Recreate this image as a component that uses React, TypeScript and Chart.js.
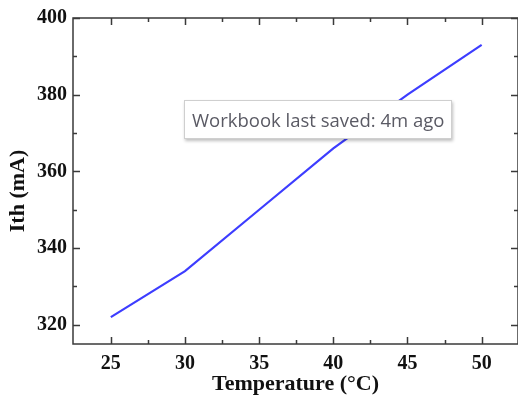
import React, { useEffect, useRef } from "react";
import { Chart, registerables } from "chart.js";

Chart.register(...registerables);

const temperatures = [25, 30, 35, 40, 45, 50];
const ithValues = [322, 334, 350, 366, 380, 393];
const xMajorTicks = [25, 30, 35, 40, 45, 50];
const xMinorTicks = [27.5, 32.5, 37.5, 42.5, 47.5];
const yMajorTicks = [320, 340, 360, 380, 400];
const yMinorTicks = [330, 350, 370, 390];
const xTitle = "Temperature (\u00B0C)";
const yTitle = "Ith (mA)";
const noteText = "Workbook last saved: 4m ago";

const serif = "'Liberation Serif', 'Times New Roman', serif";

const frameTicks = {
  id: "frameTicks",
  afterDraw(chart: any) {
    const { ctx, chartArea: a, scales } = chart;
    const xs = scales.x;
    const ys = scales.y;
    ctx.save();
    ctx.strokeStyle = "#3a3a3a";
    ctx.lineWidth = 1.5;
    ctx.strokeRect(a.left, a.top, a.right - a.left, a.bottom - a.top);
    const drawX = (vals: number[], len: number) => {
      vals.forEach((v) => {
        const px = Math.round(xs.getPixelForValue(v)) + 0.5;
        ctx.beginPath();
        ctx.moveTo(px, a.bottom);
        ctx.lineTo(px, a.bottom - len);
        ctx.moveTo(px, a.top);
        ctx.lineTo(px, a.top + len);
        ctx.stroke();
      });
    };
    const drawY = (vals: number[], len: number) => {
      vals.forEach((v) => {
        const py = Math.round(ys.getPixelForValue(v)) + 0.5;
        ctx.beginPath();
        ctx.moveTo(a.left, py);
        ctx.lineTo(a.left + len, py);
        ctx.moveTo(a.right, py);
        ctx.lineTo(a.right - len, py);
        ctx.stroke();
      });
    };
    drawX(xMajorTicks, 7);
    drawX(xMinorTicks, 4);
    drawY(yMajorTicks, 7);
    drawY(yMinorTicks, 4);

    // y axis title, centred slightly below the middle of the plot like the original
    ctx.translate(18, (a.top + a.bottom) / 2 + 10);
    ctx.rotate(-Math.PI / 2);
    ctx.fillStyle = "#111";
    ctx.font = `bold 22px ${serif}`;
    ctx.textAlign = "center";
    ctx.textBaseline = "middle";
    ctx.fillText(yTitle, 0, 0);
    ctx.restore();
  },
};

export default function App() {
  const ref = useRef<HTMLCanvasElement>(null);
  useEffect(() => {
    document.body.style.margin = "0";
    const chart = new Chart(ref.current as HTMLCanvasElement, {
      type: "line",
      data: {
        datasets: [
          {
            data: temperatures.map((t, i) => ({ x: t, y: ithValues[i] })),
            borderColor: "#3d3dff",
            borderWidth: 2.2,
            pointRadius: 0,
            tension: 0,
          },
        ],
      },
      options: {
        animation: false,
        responsive: false,
        layout: { padding: { top: 16, right: 0, left: 0, bottom: 0 } },
        plugins: { legend: { display: false }, tooltip: { enabled: false } },
        scales: {
          x: {
            type: "linear",
            min: 22.45,
            max: 52.45,
            afterBuildTicks: (s: any) => {
              s.ticks = xMajorTicks.map((v) => ({ value: v }));
            },
            afterFit: (s: any) => {
              s.height = 58;
            },
            grid: { display: false, tickLength: 0 },
            border: { display: false },
            ticks: {
              color: "#111",
              padding: 8,
              font: { family: serif, size: 20, weight: "bold" },
            },
            title: {
              display: true,
              text: xTitle,
              color: "#111",
              padding: 4,
              font: { family: serif, size: 22, weight: "bold" },
            },
          },
          y: {
            type: "linear",
            min: 315,
            max: 400,
            afterBuildTicks: (s: any) => {
              s.ticks = yMajorTicks.map((v) => ({ value: v }));
            },
            afterFit: (s: any) => {
              s.width = 73;
            },
            grid: { display: false, tickLength: 0 },
            border: { display: false },
            ticks: {
              color: "#111",
              padding: 6,
              font: { family: serif, size: 20, weight: "bold" },
            },
            title: { display: false },
          },
        },
      },
      plugins: [frameTicks],
    } as any);
    return () => chart.destroy();
  }, []);
  return (
    <div style={{ position: "relative", width: 518, height: 402, background: "#fff" }}>
      <canvas ref={ref} width={518} height={402} style={{ display: "block" }} />
      <div
        style={{
          position: "absolute",
          left: 184,
          top: 100,
          width: 268,
          height: 39,
          boxSizing: "border-box",
          border: "1px solid #cfcfcf",
          background: "#fff",
          boxShadow: "1px 2px 3px rgba(0,0,0,0.25)",
          color: "#5a5a64",
          fontFamily: "'Open Sans', sans-serif",
          fontSize: 18.5,
          lineHeight: "37px",
          paddingLeft: 7,
          whiteSpace: "nowrap",
        }}
      >
        {noteText}
      </div>
    </div>
  );
}
